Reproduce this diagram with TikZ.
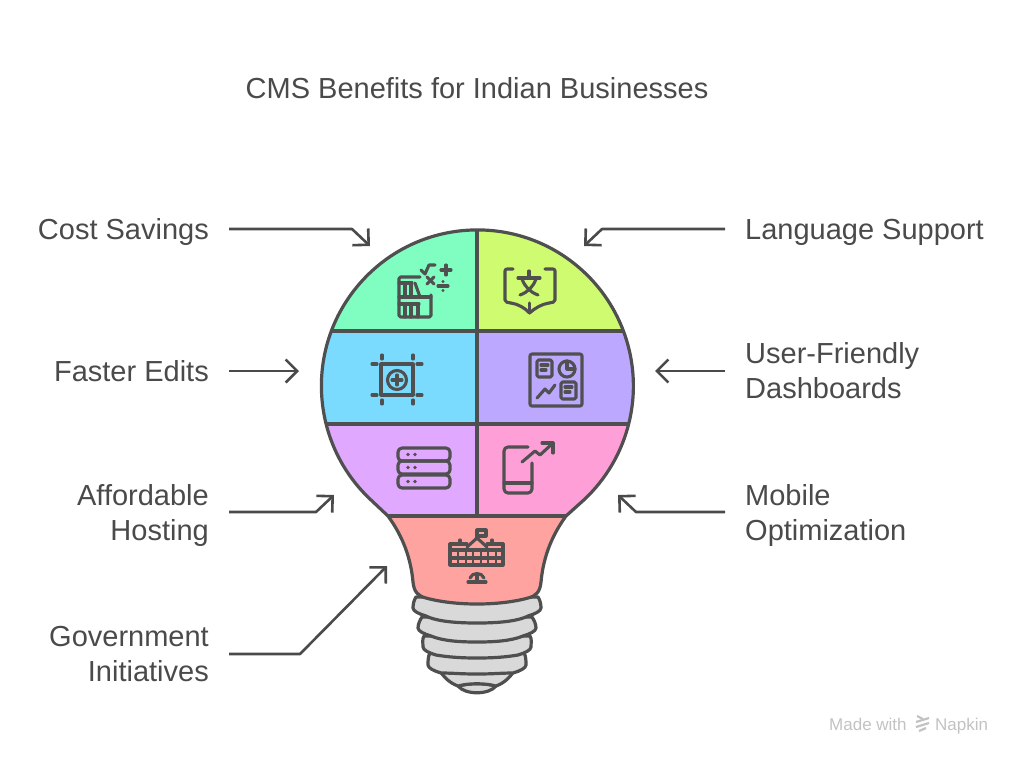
\documentclass[tikz,border=0pt]{standalone}
\usepackage{fontspec}
\setmainfont{Liberation Sans}
\usetikzlibrary{arrows.meta}
\definecolor{CStroke}{HTML}{4F4F4F}
\definecolor{CText}{HTML}{4A4A4A}
\definecolor{CIcon}{HTML}{505050}
\definecolor{CGreen}{HTML}{80FDC0}
\definecolor{CLime}{HTML}{CFFB70}
\definecolor{CBlue}{HTML}{7ADBFF}
\definecolor{CLilac}{HTML}{BCA9FF}
\definecolor{CViolet}{HTML}{E0A8FF}
\definecolor{CPink}{HTML}{FF9FD8}
\definecolor{CSalmon}{HTML}{FFA3A0}
\definecolor{CBase}{HTML}{D9D9D9}
\definecolor{CMark}{HTML}{C2C2C2}
\tikzset{
  labelleft/.style={font=\fontsize{29}{35}\selectfont, text=CText, anchor=east, align=right, inner sep=0pt},
  labelright/.style={font=\fontsize{29}{35}\selectfont, text=CText, anchor=west, align=left, inner sep=0pt},
  arrowline/.style={-{Straight Barb[length=11.5pt,width=23pt]}, line width=2.6pt, CText, line join=round, shorten <=20pt},
  bulbline/.style={line width=3.2pt, CStroke, line join=round},
  iconline/.style={line width=3.1pt, CIcon, line join=round, line cap=round},
  marktext/.style={font=\fontsize{17}{19}\selectfont, text=CMark, anchor=base west, inner sep=0pt},
}
\begin{document}
\begin{tikzpicture}[x=1pt,y=-1pt]
  \useasboundingbox (0,0) rectangle (1024,764);

  % ============================================
  % SCREW BASE: rings from the bottom upwards
  % ============================================
  \filldraw[bulbline, fill=CBase] (458,686) .. controls (465,695) and (489,695) .. (496,686)
    .. controls (485,683) and (469,683) .. (458,686) -- cycle;
  \filldraw[bulbline, fill=CBase] (438,668) .. controls (444,678) and (450,683) .. (458,686)
    .. controls (469,683) and (485,683) .. (496,686) .. controls (504,683) and (510,678) .. (516,668) -- cycle;
  \foreach \tx/\ty/\lx/\ly/\cy in {430/653/428/665/674, 424/636/423/647/658, 422/617/418/628/642, 416/597/413/608/623} {
    \filldraw[bulbline, fill=CBase] (\tx,\ty)
      .. controls (\tx-2,\ty+3) and (\lx,\ly-4) .. (\lx,\ly)
      .. controls (\lx,\ly+3) and (\lx+6,\ly+6) .. (\lx+13,\ly+8)
      .. controls (\lx+25,\cy-1) and (460,\cy) .. (477,\cy)
      .. controls (494,\cy) and (954-\lx-25,\cy-1) .. (954-\lx-13,\ly+8)
      .. controls (954-\lx-6,\ly+6) and (954-\lx,\ly+3) .. (954-\lx,\ly)
      .. controls (954-\lx,\ly-4) and (954-\tx+2,\ty+3) .. (954-\tx,\ty) -- cycle;
  }

  % ============================================
  % GLASS: colour bands clipped to the outline
  % ============================================
  \def\bulboutline{(388,516) -- (371,500) arc[start angle=133, end angle=407, radius=156] -- (566,516)
    .. controls (550,538) and (543,560) .. (541,582) .. controls (540,592) and (536,596) .. (528,598)
    .. controls (499,606) and (455,606) .. (426,598) .. controls (418,596) and (414,592) .. (413,582)
    .. controls (411,560) and (404,538) .. (388,516) -- cycle}
  \begin{scope}
    \clip \bulboutline;
    \fill[CGreen] (300,220) rectangle (477,331);
    \fill[CLime] (477,220) rectangle (650,331);
    \fill[CBlue] (300,331) rectangle (477,424);
    \fill[CLilac] (477,331) rectangle (650,424);
    \fill[CViolet] (300,424) rectangle (477,516);
    \fill[CPink] (477,424) rectangle (650,516);
    \fill[CSalmon] (300,516) rectangle (650,610);
    \draw[bulbline] (300,331) -- (650,331);
    \draw[bulbline] (300,424) -- (650,424);
    \draw[bulbline] (300,516) -- (650,516);
    \draw[bulbline] (477,220) -- (477,516);
  \end{scope}
  \draw[bulbline] \bulboutline;

  % === Icon: books and maths ===
  \draw[iconline, rounded corners=1.5pt] (420,277) -- (399,277) -- (399,317) -- (431,317) -- (431,295);
  \draw[iconline] (399,297) -- (431,297);
  \draw[iconline] (399,304) -- (419,304);
  \foreach \x in {405,411} {
    \draw[iconline] (\x,283) -- (\x,297);
    \draw[iconline] (\x,304) -- (\x,317);
  }
  \draw[iconline] (399,283) -- (412,283);
  \draw[iconline] (415,283) -- (420,297);
  \draw[iconline] (418,304) -- (418,317);
  \draw[iconline] (421,270) -- (425,274) -- (429,265) -- (435,265);
  \draw[iconline] (441,270) -- (451,270);
  \draw[iconline] (446,265) -- (446,275);
  \draw[iconline] (427,277) -- (434,284);
  \draw[iconline] (434,277) -- (427,284);
  \draw[iconline] (438,286) -- (448,286);
  \fill[CIcon] (443,281.5) circle (1.6pt);
  \fill[CIcon] (443,290.5) circle (1.6pt);

  % === Icon: translated book ===
  \draw[iconline, rounded corners=2pt] (513,269) -- (505,269) -- (505,302) -- (511,303);
  \draw[iconline, rounded corners=2pt] (545,269) -- (555,269) -- (555,302) -- (549,303);
  \draw[iconline] (511,303) .. controls (518,304) and (525,308) .. (529.5,313) .. controls (535,308) and (542,304) .. (549,303);
  \draw[iconline] (529.5,303) -- (529.5,313);
  \draw[iconline] (529,271) -- (529,277);
  \draw[iconline] (518,278) -- (540,278);
  \draw[iconline] (522,279) .. controls (525,287) and (530,292) .. (538,295);
  \draw[iconline] (536,279) .. controls (533,287) and (528,292) .. (520,295);

  % === Icon: crop frame with plus ===
  \draw[iconline, line cap=butt] (381,364) rectangle (413,395);
  \draw[iconline] (397,375) -- (397,385);
  \draw[iconline] (392,380) -- (402,380);
  \draw[iconline] (397,380) circle (9.5pt);
  \foreach \x in {382,413} {
    \draw[iconline] (\x,355) -- (\x,359);
    \draw[iconline] (\x,400) -- (\x,404);
  }
  \foreach \y in {364,395} {
    \draw[iconline] (372,\y) -- (377,\y);
    \draw[iconline] (417,\y) -- (422,\y);
  }

  % === Icon: dashboard ===
  \draw[iconline, rounded corners=2pt] (530,354) rectangle (582,406);
  \draw[iconline, rounded corners=1.5pt] (537,360) rectangle (552,377);
  \draw[iconline] (541,365) -- (548,365);
  \draw[iconline] (541,370) -- (546,370);
  \draw[iconline, rounded corners=1.5pt] (561,382) rectangle (576,399);
  \draw[iconline] (565,387) -- (572,387);
  \draw[iconline] (565,392) -- (570,392);
  \draw[iconline] (567,369) circle (8pt);
  \draw[iconline] (567,361) -- (567,369) -- (575,369);
  \draw[iconline] (537,398) -- (545,389) -- (549,393) -- (555,385);

  % === Icon: server stack ===
  \foreach \y in {448,461,475} {
    \draw[iconline, rounded corners=4pt] (398,\y) rectangle (450,\y+13);
    \fill[CIcon] (408,\y+6.5) circle (1.9pt);
    \fill[CIcon] (415,\y+6.5) circle (1.9pt);
  }

  % === Icon: phone with rising arrow ===
  \draw[iconline, rounded corners=4pt] (528,447) -- (504,447) -- (504,493) -- (532,493) -- (532,463);
  \draw[iconline] (504,483) -- (532,483);
  \draw[iconline] (522,462) -- (535,451) -- (540,455) -- (553,443);
  \draw[iconline] (542,443) -- (553,443) -- (553,453);

  % === Icon: government building ===
  \draw[iconline] (477,538) -- (477,530) -- (486,530) -- (486,536) -- (477,536);
  \draw[iconline] (467,547) -- (477,538) -- (487,547);
  \draw[iconline] (450,544) -- (467,544);
  \draw[iconline] (487,544) -- (503,544);
  \draw[iconline] (460,540) -- (460,544);
  \draw[iconline] (492,540) -- (492,544);
  \draw[iconline] (450,544) -- (450,565) -- (503,565) -- (503,544);
  \draw[iconline] (450,550) -- (503,550);
  \draw[iconline] (450,558) -- (503,558);
  \foreach \x in {458,466,473,481,488,496} {
    \draw[iconline, line width=2.6pt] (\x,550) -- (\x,565);
  }
  \draw[iconline] (468,582) -- (486,582);
  \draw[iconline] (477,574) -- (477,582);
  \draw[iconline] (470,578) .. controls (472,572) and (482,572) .. (484,578);

  % ============================================
  % LABELS
  % ============================================
  \node[font=\fontsize{29}{34}\selectfont, text=CText, inner sep=0pt] (nTitle) at (477,88) {CMS Benefits for Indian Businesses};

  \node[labelleft] (nCost) at (209,232) {Cost Savings};
  \node[labelleft] (nEdits) at (209,371) {Faster Edits};
  \node[labelleft] (nHosting) at (209,515) {Affordable\\Hosting};
  \node[labelleft] (nGov) at (209,654) {Government\\Initiatives};
  \node[labelright] (nLang) at (745,232) {Language Support};
  \node[labelright] (nDash) at (745,371) {User-Friendly\\Dashboards};
  \node[labelright] (nMobile) at (745,515) {Mobile\\Optimization};

  % Arrows into the bulb
  \coordinate (bCost) at (352,229);
  \coordinate (tCost) at (370,246);
  \coordinate (tEdits) at (299,371);
  \coordinate (bHosting) at (316,512);
  \coordinate (tHosting) at (334,495);
  \coordinate (bGov) at (300,654);
  \coordinate (tGov) at (387,566);
  \coordinate (bLang) at (602,229);
  \coordinate (tLang) at (584,246);
  \coordinate (tDash) at (655,371);
  \coordinate (bMobile) at (636,512);
  \coordinate (tMobile) at (618,495);
  \draw[arrowline] (nCost.east |- bCost) -- (bCost) -- (tCost);
  \draw[arrowline] (nEdits.east) -- (tEdits);
  \draw[arrowline] (nHosting.east |- bHosting) -- (bHosting) -- (tHosting);
  \draw[arrowline] (nGov.east) -- (bGov) -- (tGov);
  \draw[arrowline] (nLang.west |- bLang) -- (bLang) -- (tLang);
  \draw[arrowline] (nDash.west) -- (tDash);
  \draw[arrowline] (nMobile.west |- bMobile) -- (bMobile) -- (tMobile);

  % Watermark
  \node[marktext] (nMade) at (829,730) {Made with};
  \node[marktext] (nNapkin) at (935,730) {Napkin};
  \draw[CMark, line width=2.2pt] (917,716) -- (923,719);
  \draw[CMark, line width=2.2pt] (916,722) -- (929,718);
  \draw[CMark, line width=2.2pt] (916,727) -- (929,723);
  \draw[CMark, line width=2.2pt] (919,731) -- (926,728);
\end{tikzpicture}
\end{document}
